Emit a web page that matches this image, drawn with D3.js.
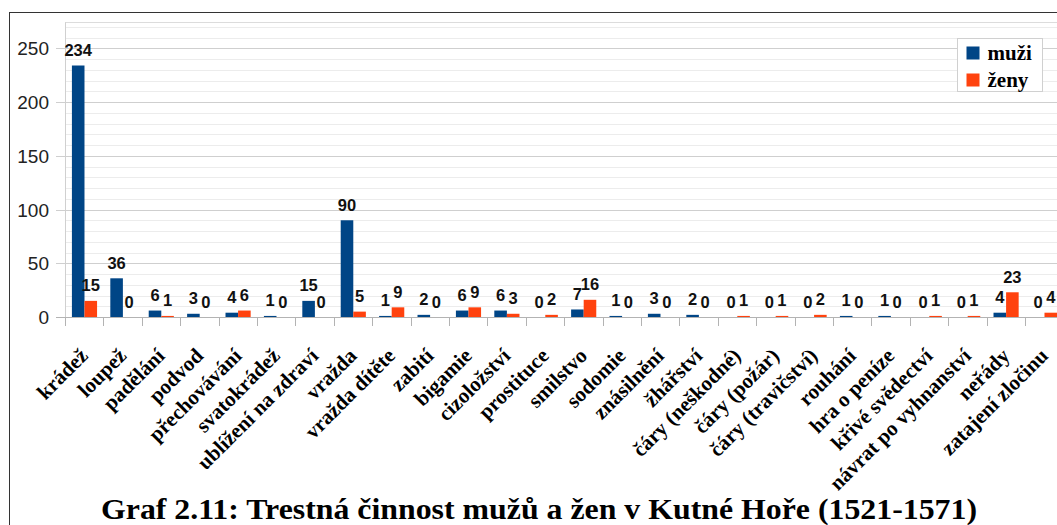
<!DOCTYPE html>
<html>
<head>
<meta charset="utf-8">
<script src="https://cdn.jsdelivr.net/npm/d3@7"></script>
<style>
  body { margin: 0; background: #fff; }
</style>
</head>
<body>
<div id="app"></div>
<script>
const categories = ["krádež","loupež","padělání","podvod","přechovávání","svatokrádež",
  "ublížení na zdraví","vražda","vražda dítěte","zabití","bigamie","cizoložství",
  "prostituce","smilstvo","sodomie","znásilnění","žhářství","čáry (neškodné)",
  "čáry (požár)","čáry (travičství)","rouhání","hra o peníze","křivé svědectví",
  "návrat po vyhnanství","neřády","zatajení zločinu"]
const muzi = [234,36,6,3,4,1,15,90,1,2,6,6,0,7,1,3,2,0,0,0,1,1,0,0,4,0]
const zeny = [15,0,1,0,6,0,0,5,9,0,9,3,2,16,0,0,0,1,1,2,0,0,1,1,23,4]
const series = ["muži","ženy"]
const yTicks = [0,50,100,150,200,250]
const title = "Graf 2.11: Trestná činnost mužů a žen v Kutné Hoře (1521-1571)"

const make_plot = (root_node) => {
   let width = 1057
   let height = 525
   let colors = ["#004586","#ff420e"]
   let left = 65, top = 22.3, bottom = 317
   let band = 38.4

   let svg = d3.select(root_node)
      .append("svg")
      .attr("width",width)
      .attr("height",height)

   svg.append("rect")
      .attr("x",9.5).attr("y",12.5)
      .attr("width",1100).attr("height",600)
      .attr("fill","#fff")
      .attr("stroke","#333")

   let x = d3.scaleBand()
      .domain(categories)
      .range([left, left + band*categories.length])

   let x1 = d3.scaleBand()
      .domain(series)
      .range([x.bandwidth()*0.18, x.bandwidth()*0.835])

   let y = d3.scaleLinear()
      .domain([0, 274.2])
      .range([bottom, top])

   // grid
   let grid = svg.append("g")
   grid.selectAll("line.minor")
      .data(d3.range(10, 275, 10).filter(v => v % 50 != 0))
      .join("line")
      .attr("x1",left).attr("x2",width)
      .attr("y1",d => Math.round(y(d))+0.5).attr("y2",d => Math.round(y(d))+0.5)
      .attr("stroke","#ececec")
   grid.selectAll("line.major")
      .data(yTicks.slice(1))
      .join("line")
      .attr("x1",left-9).attr("x2",width)
      .attr("y1",d => Math.round(y(d))+0.5).attr("y2",d => Math.round(y(d))+0.5)
      .attr("stroke","#cfcfcf")
   grid.append("line")
      .attr("x1",left).attr("x2",width)
      .attr("y1",Math.round(top)+0.5).attr("y2",Math.round(top)+0.5)
      .attr("stroke","#dcdcdc")
   grid.append("line")
      .attr("x1",left+0.5).attr("x2",left+0.5)
      .attr("y1",top).attr("y2",bottom)
      .attr("stroke","#d0d0d0")

   // y axis labels
   svg.append("g")
      .selectAll("text")
      .data(yTicks)
      .join("text")
      .attr("x",49)
      .attr("y",d => y(d)+7)
      .attr("text-anchor","end")
      .attr("font-family","Liberation Sans, Arial, sans-serif")
      .attr("font-size","19px")
      .attr("fill","#222")
      .text(d => d)

   // x axis line and ticks
   svg.append("line")
      .attr("x1",left-9).attr("x2",width)
      .attr("y1",bottom+0.5).attr("y2",bottom+0.5)
      .attr("stroke","#b3b3b3")
   svg.append("g")
      .selectAll("line")
      .data(categories)
      .join("line")
      .attr("x1",d => Math.round(x(d))+0.5).attr("x2",d => Math.round(x(d))+0.5)
      .attr("y1",bottom).attr("y2",bottom+9)
      .attr("stroke","#b3b3b3")

   // bars
   let rows = categories.map((c,i) => ({cat:c, vals:[muzi[i], zeny[i]]}))
   let groups = svg.append("g")
      .selectAll("g")
      .data(rows)
      .join("g")
      .attr("transform",d => `translate(${x(d.cat)},0)`)

   groups.selectAll("rect")
      .data(d => d.vals.map((v,k) => ({s:series[k], v:v, k:k})))
      .join("rect")
      .attr("x",d => x1(d.s))
      .attr("width",x1.bandwidth())
      .attr("y",d => y(d.v))
      .attr("height",d => bottom - y(d.v))
      .attr("fill",d => colors[d.k])

   groups.selectAll("text")
      .data(d => d.vals.map((v,k) => ({s:series[k], v:v, k:k})))
      .join("text")
      .attr("x",d => x1(d.s) + x1.bandwidth()/2)
      .attr("y",d => y(d.v) - 9.5)
      .attr("text-anchor","middle")
      .attr("font-family","Liberation Sans, Arial, sans-serif")
      .attr("font-weight","bold")
      .attr("font-size","16.5px")
      .attr("fill","#111")
      .text(d => d.v)

   // category labels
   svg.append("g")
      .selectAll("text")
      .data(categories)
      .join("text")
      .attr("transform",d => `translate(${x(d) + x.bandwidth()/2 + 5},${bottom + 40}) rotate(-45)`)
      .attr("text-anchor","end")
      .attr("font-family","Liberation Serif, Times New Roman, serif")
      .attr("font-weight","bold")
      .attr("font-size","21px")
      .attr("fill","#000")
      .text(d => d)

   // legend
   let legend = svg.append("g").attr("transform","translate(957.5,38.5)")
   legend.append("rect")
      .attr("width",85).attr("height",53)
      .attr("fill","#fff")
      .attr("stroke","#d0d0d0")
   let item = legend.selectAll("g")
      .data(series)
      .join("g")
      .attr("transform",(d,i) => `translate(9,${8 + i*27})`)
   item.append("rect")
      .attr("width",13).attr("height",13)
      .attr("fill",(d,i) => colors[i])
   item.append("text")
      .attr("x",21).attr("y",13)
      .attr("font-family","Liberation Serif, Times New Roman, serif")
      .attr("font-weight","bold")
      .attr("font-size","21px")
      .text(d => d)

   // title
   svg.append("text")
      .attr("x",539).attr("y",519)
      .attr("text-anchor","middle")
      .attr("font-family","Liberation Serif, Times New Roman, serif")
      .attr("font-weight","bold")
      .attr("font-size","29px")
      .attr("textLength",876)
      .attr("lengthAdjust","spacingAndGlyphs")
      .text(title)
}

make_plot("#app")
</script>
</body>
</html>
